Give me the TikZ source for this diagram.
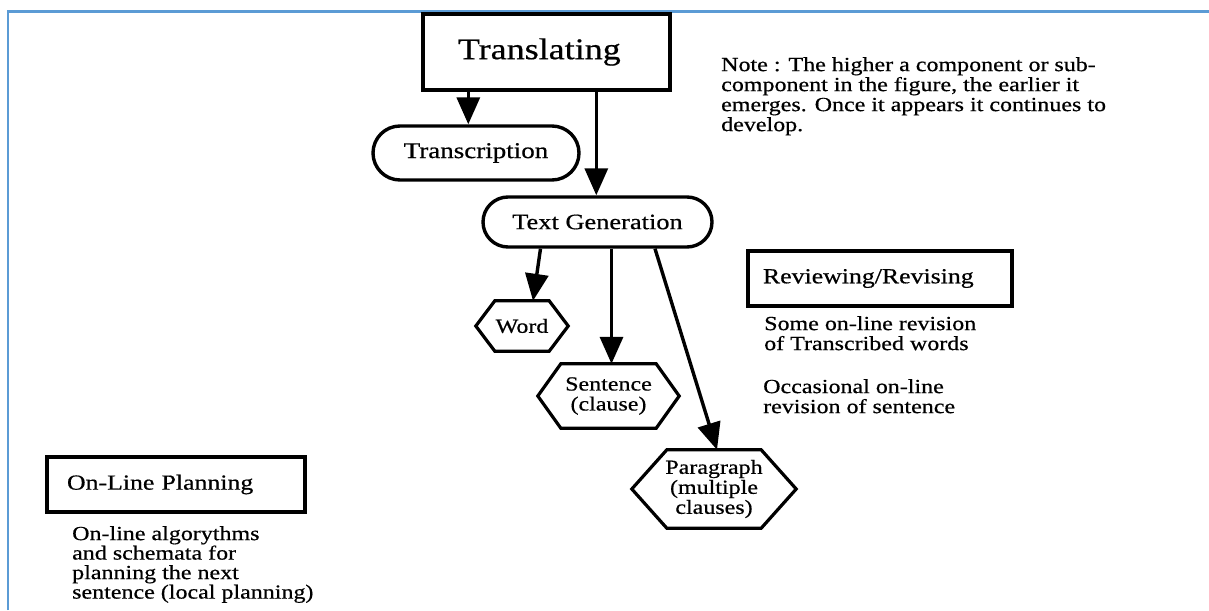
\documentclass[tikz,border=0pt]{standalone}
\usepackage{fontspec}
\setmainfont{Liberation Serif}[FakeStretch=1.2,FakeBold=0.6]
\usetikzlibrary{arrows.meta,shapes.misc,calc}
\definecolor{frameblue}{HTML}{5B9BD5}
\begin{document}
\begin{tikzpicture}[x=1pt,y=-1pt,
  box/.style={draw,line width=3.4pt,rectangle,inner ysep=0pt,align=left},
  pill/.style={draw,line width=3.4pt,rounded rectangle,inner sep=0pt},
  hexnode/.style={inner sep=0pt,align=center,font=\fontsize{20}{20}\selectfont},
  hexline/.style={line width=3.2pt,line join=miter},
  arr/.style={line width=3.4pt,-{Triangle[length=27pt,width=23pt]}},
  body/.style={font=\fontsize{20}{20}\selectfont,align=left,inner sep=0pt,anchor=north west}]
\useasboundingbox (0,0) rectangle (1209,610);
% frame
\coordinate (fbl) at (8,610);
\coordinate (ftl) at (8,11.5);
\coordinate (ftr) at (1209,11.5);
\draw[frameblue,line width=2.4pt] (fbl) -- (ftl) -- (ftr);

% boxes
\node[box,minimum width=247,minimum height=76,inner xsep=35pt,text width=177pt,
      font=\fontsize{30}{30}\selectfont] (tr) at (546.5,52) {Translating};
\node[box,minimum width=264,minimum height=55,inner xsep=15pt,text width=234pt,
      font=\fontsize{21.5}{21.5}\selectfont] (rev) at (880,278.5) {Reviewing/Revising};
\node[box,minimum width=258,minimum height=55,inner xsep=20pt,text width=218pt,
      font=\fontsize{21.5}{21.5}\selectfont] (olp) at (176,484.5) {On-Line Planning};

% pills
\node[pill,minimum width=206,minimum height=54,font=\fontsize{22.5}{22.5}\selectfont] (tc) at (476,153) {Transcription};
\node[pill,minimum width=229,minimum height=50,font=\fontsize{22}{22}\selectfont] (tg) at (597.5,222) {Text Generation};

% hexagons
\node[hexnode,minimum width=92,minimum height=50] (word) at (522,326) {Word};
\node[hexnode,minimum width=141,minimum height=64] (sent) at (608.5,396) {Sentence\\(clause)};
\node[hexnode,minimum width=164,minimum height=78] (para) at (714,489) {Paragraph\\(multiple\\clauses)};
\draw[hexline] (word.west) -- ($(word.north west)+(19,0)$) -- ($(word.north east)+(-19,0)$) -- (word.east)
  -- ($(word.south east)+(-19,0)$) -- ($(word.south west)+(19,0)$) -- cycle;
\draw[hexline] (sent.west) -- ($(sent.north west)+(23,0)$) -- ($(sent.north east)+(-23,0)$) -- (sent.east)
  -- ($(sent.south east)+(-23,0)$) -- ($(sent.south west)+(23,0)$) -- cycle;
\draw[hexline] (para.west) -- ($(para.north west)+(35,0)$) -- ($(para.north east)+(-35,0)$) -- (para.east)
  -- ($(para.south east)+(-35,0)$) -- ($(para.south west)+(35,0)$) -- cycle;

% arrows
\draw[arr] ($(tr.south west)+(47,0)$) coordinate (a1) -- (a1 |- tc.north);
\draw[arr] ($(tr.south west)+(175,0)$) coordinate (a2) -- (a2 |- tg.north);
\draw[arr] ($(tg.south)+(-57,0)$) -- ($(word.north)+(11,0)$);
\draw[arr] ($(tg.south)+(14,0)$) coordinate (a4) -- (a4 |- sent.north);
\draw[arr] ($(tg.south)+(57.5,0)$) -- ($(para.north)+(3,0)$);

% texts
\node[body] (note) at (721,57) {Note : The higher a component or sub-\\component in the figure, the earlier it\\emerges. Once it appears it continues to\\develop.};
\node[body] (revtxt1) at (764,316) {Some on-line revision\\of Transcribed words};
\node[body] (revtxt2) at (763,379) {Occasional on-line\\revision of sentence};
\node[body,font=\fontsize{20}{19.5}\selectfont] (plantxt) at (72,526) {On-line algorythms\\and schemata for\\planning the next\\sentence (local planning)};
\end{tikzpicture}
\end{document}
